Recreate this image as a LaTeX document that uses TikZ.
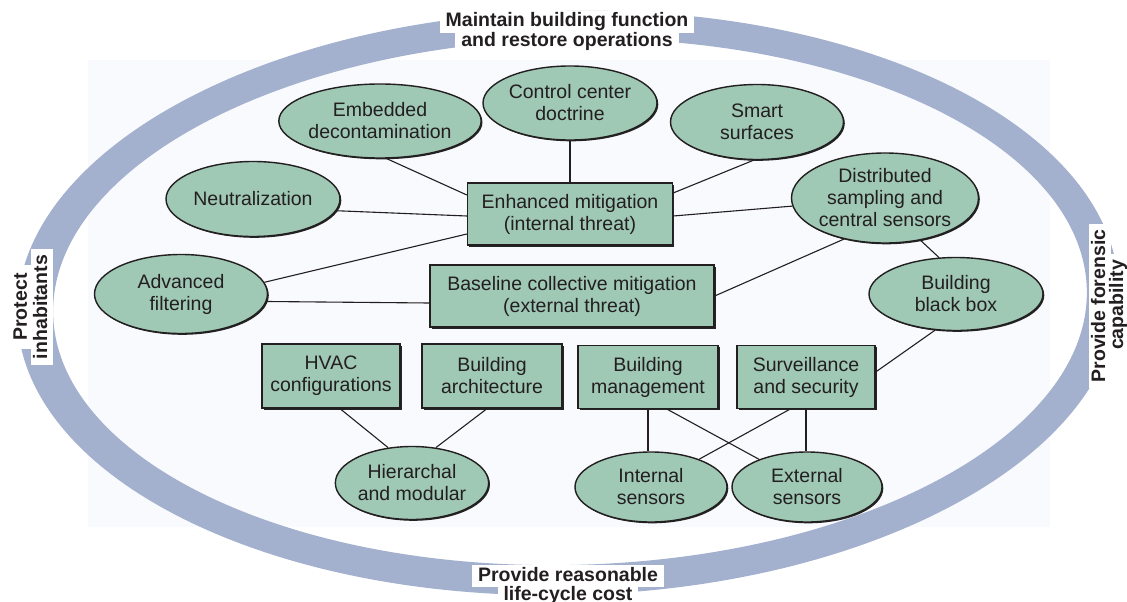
\documentclass[tikz,border=0pt]{standalone}
\usepackage{fontspec}
\setmainfont{Liberation Sans}
\usetikzlibrary{shapes.geometric,shadows}
\definecolor{ringblue}{RGB}{163,177,206}
\definecolor{nodegreen}{RGB}{159,200,181}
\definecolor{inkc}{RGB}{35,31,32}
\definecolor{panel}{RGB}{248,250,253}
\tikzset{
  oval/.style={ellipse, draw=inkc, line width=1.4pt, fill=nodegreen, inner sep=0pt,
    align=center, text=inkc, font=\fontsize{19.5}{22}\selectfont,
    drop shadow={shadow xshift=1.3pt, shadow yshift=-1.3pt, fill=black, opacity=0.85}},
  boxnode/.style={rectangle, draw=inkc, line width=1.3pt, fill=nodegreen, inner sep=0pt,
    align=center, text=inkc, font=\fontsize{19.5}{22}\selectfont,
    drop shadow={shadow xshift=1.5pt, shadow yshift=-1.5pt, fill=black, opacity=0.85}},
  link/.style={draw=inkc, line width=1.1pt},
  ringlabel/.style={fill=white, text=inkc, inner xsep=6pt, inner ysep=1pt,
    text height=15pt, text depth=5pt, font=\bfseries\fontsize{19.5}{22}\selectfont},
}
\begin{document}
\begin{tikzpicture}[x=1pt, y=-1pt]
\useasboundingbox (0,0) rectangle (1127,602);
% faint panel
\fill[panel] (88,60) rectangle (1050,527);
% ring band
\fill[ringblue, even odd rule, rotate around={1.4:(568,303)}]
  (568,303) ellipse [x radius=551pt, y radius=292pt]
  (570,302) ellipse [x radius=517pt, y radius=263pt];

% ring labels
\node[ringlabel, anchor=base] (top1) at (567,27) {Maintain building function};
\node[ringlabel, anchor=base] (top2) at (567,47) {and restore operations};
\node[ringlabel, anchor=base] (bot1) at (568,581) {Provide reasonable};
\node[ringlabel, anchor=base] (bot2) at (568,600) {life-cycle cost};
\node[ringlabel, anchor=base, rotate=90, inner xsep=8pt] (lef1) at (27,307) {Protect};
\node[ringlabel, anchor=base, rotate=90, inner xsep=6pt] (lef2) at (47,307) {inhabitants};
\node[ringlabel, anchor=base, rotate=90, inner xsep=6pt] (rig1) at (1105,306) {Provide forensic};
\node[ringlabel, anchor=base, rotate=90, inner xsep=6pt] (rig2) at (1123,305) {capability};

% ovals
\node[oval, minimum width=174pt, minimum height=74pt] (emb) at (380,121) {Embedded\\decontamination};
\node[oval, minimum width=174pt, minimum height=74pt] (ccd) at (570,103) {Control center\\doctrine};
\node[oval, minimum width=173pt, minimum height=75pt] (smart) at (757,122) {Smart\\surfaces};
\node[oval, minimum width=174pt, minimum height=75pt] (neu) at (253,199) {Neutralization};
\node[oval, minimum width=180pt, minimum height=90pt] (dist) at (885,198) {Distributed\\sampling and\\central sensors};
\node[oval, minimum width=173pt, minimum height=79pt] (adv) at (181,294) {Advanced\\filtering};
\node[oval, minimum width=174pt, minimum height=73pt] (bbb) at (956,294) {Building\\black box};
\node[oval, minimum width=151pt, minimum height=73pt] (hier) at (412,483) {Hierarchal\\and modular};
\node[oval, minimum width=152pt, minimum height=70pt] (ins) at (651,487) {Internal\\sensors};
\node[oval, minimum width=150pt, minimum height=70pt] (ext) at (807,487) {External\\sensors};

% boxes
\node[boxnode, minimum width=205pt, minimum height=62pt] (enh) at (570,214) {Enhanced mitigation\\(internal threat)};
\node[boxnode, minimum width=284pt, minimum height=62pt] (base) at (572,296) {Baseline collective mitigation\\(external threat)};
\node[boxnode, minimum width=138pt, minimum height=64pt] (hvac) at (331,376) {HVAC\\configurations};
\node[boxnode, minimum width=140pt, minimum height=64pt] (arch) at (492,376) {Building\\architecture};
\node[boxnode, minimum width=140pt, minimum height=63pt] (bman) at (648,377) {Building\\management};
\node[boxnode, minimum width=138pt, minimum height=63pt] (surv) at (806,377) {Surveillance\\and security};

% connectors
\draw[link] (emb.-80) -- ([yshift=19pt]enh.west);
\draw[link] (ccd.south) -- (enh.north);
\draw[link] (smart.-95) -- ([yshift=21pt]enh.east);
\draw[link] (neu.-8) -- ([yshift=-2pt]enh.west);
\draw[link] (adv.8) -- ([yshift=-20pt]enh.west);
\draw[link] (dist.185) -- ([yshift=-2pt]enh.east);
\draw[link] (adv.-5) -- ([yshift=-7pt]base.west);
\draw[link] (dist.-135) -- (base.east);
\draw[link] (dist.-50) -- (bbb.115);
\draw[link] (bbb.-120) -- ([yshift=5pt]surv.east);
\draw[link] ([xshift=9pt]hvac.south) -- (hier.124);
\draw[link] ([xshift=-5pt]arch.south) -- (hier.56);
\draw[link] (bman.south) -- (bman.south |- ins.north);
\draw[link] ([xshift=19pt]bman.south) -- (ext.150);
\draw[link] ([xshift=-16pt]surv.south) -- (ins.30);
\draw[link] (surv.south) -- (surv.south |- ext.north);
\end{tikzpicture}
\end{document}
